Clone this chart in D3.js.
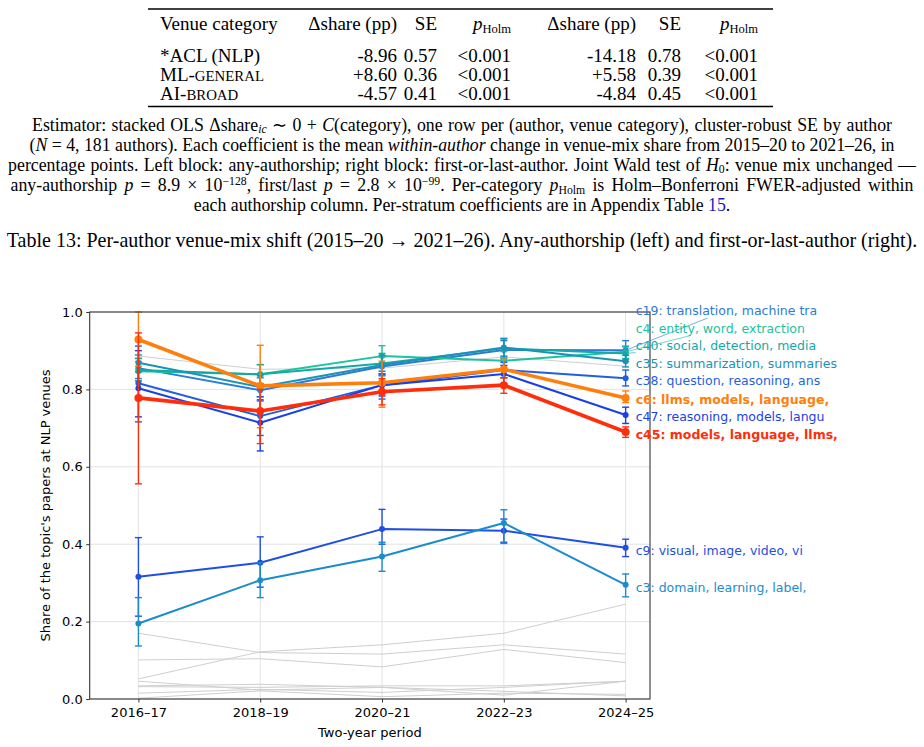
<!DOCTYPE html>
<html>
<head>
<meta charset="utf-8">
<style>
  body { margin: 0; background: #fff; }
  .serif { font-family: "Liberation Serif", "Times New Roman", serif; }
  .sans { font-family: "DejaVu Sans", sans-serif; }
</style>
</head>
<body>
<svg id="page" width="924" height="747"></svg>
<script src="https://cdn.jsdelivr.net/npm/d3@7/dist/d3.min.js"></script>
<script>

// ---- table data ----
var venueCategories = [["*ACL (NLP)", ""], ["ML-", "general"], ["AI-", "broad"]];
var deltaAny = ["-8.96", "+8.60", "-4.57"];
var seAny = ["0.57", "0.36", "0.41"];
var pAny = ["<0.001", "<0.001", "<0.001"];
var deltaFirstLast = ["-14.18", "+5.58", "-4.84"];
var seFirstLast = ["0.78", "0.39", "0.45"];
var pFirstLast = ["<0.001", "<0.001", "<0.001"];

// ---- chart data ----
var periods = ["2016–17", "2018–19", "2020–21", "2022–23", "2024–25"];
var topicIds = ["c19", "c4", "c40", "c35", "c38", "c6", "c47", "c45", "c9", "c3"];
var topicLabels = [
  "c19: translation, machine tra",
  "c4: entity, word, extraction",
  "c40: social, detection, media",
  "c35: summarization, summaries",
  "c38: question, reasoning, ans",
  "c6: llms, models, language,",
  "c47: reasoning, models, langu",
  "c45: models, language, llms,",
  "c9: visual, image, video, vi",
  "c3: domain, learning, label,"
];
var shares = [
  [0.855, 0.798, 0.859, 0.902, 0.901],
  [0.847, 0.839, 0.886, 0.874, 0.897],
  [0.850, 0.839, 0.867, 0.906, 0.893],
  [0.869, 0.806, 0.863, 0.908, 0.873],
  [0.816, 0.731, 0.811, 0.850, 0.829],
  [0.929, 0.809, 0.817, 0.852, 0.778],
  [0.803, 0.714, 0.811, 0.840, 0.734],
  [0.778, 0.744, 0.794, 0.811, 0.690],
  [0.316, 0.352, 0.439, 0.435, 0.391],
  [0.195, 0.307, 0.368, 0.455, 0.295]
];
var lowerCI = [
  [0.828, 0.770, 0.835, 0.880, 0.872],
  [0.822, 0.815, 0.862, 0.850, 0.880],
  [0.822, 0.815, 0.840, 0.884, 0.878],
  [0.845, 0.781, 0.837, 0.886, 0.858],
  [0.716, 0.681, 0.775, 0.830, 0.809],
  [0.860, 0.701, 0.754, 0.830, 0.766],
  [0.729, 0.641, 0.783, 0.815, 0.712],
  [0.556, 0.660, 0.760, 0.790, 0.676],
  [0.214, 0.289, 0.400, 0.405, 0.368],
  [0.137, 0.262, 0.330, 0.402, 0.264]
];
var upperCI = [
  [0.880, 0.830, 0.884, 0.926, 0.926],
  [0.872, 0.864, 0.913, 0.898, 0.912],
  [0.880, 0.864, 0.893, 0.930, 0.910],
  [0.889, 0.835, 0.888, 0.932, 0.888],
  [0.912, 0.781, 0.847, 0.870, 0.850],
  [1.000, 0.914, 0.873, 0.878, 0.796],
  [0.900, 0.773, 0.840, 0.862, 0.754],
  [0.946, 0.800, 0.828, 0.830, 0.703],
  [0.417, 0.419, 0.490, 0.465, 0.413],
  [0.262, 0.352, 0.405, 0.489, 0.323]
];
var otherTopicShares = [
  [0.886, 0.852, 0.855, 0.884, 0.860],
  [0.170, 0.120, 0.116, 0.140, 0.116],
  [0.052, 0.122, 0.140, 0.170, 0.245],
  [0.101, 0.104, 0.083, 0.128, 0.094],
  [0.046, 0.023, 0.030, 0.010, 0.046],
  [0.032, 0.030, 0.034, 0.034, 0.046],
  [0.015, 0.025, 0.017, 0.030, 0.046],
  [0.002, 0.021, 0.006, 0.015, 0.012],
  [0.034, 0.038, 0.030, 0.020, 0.008]
];

var topicColors = {
  c19: "#2b7bd8", c4: "#1cc39e", c40: "#15a9a6", c35: "#1a92b8", c38: "#1f5fe0",
  c6: "#ff7f0e", c47: "#1a3fe6", c45: "#ff2d0a", c9: "#1e4fe2", c3: "#1b8ccb"
};
var boldTopics = ["c6", "c45"];

var svg = d3.select("#page");

// ---------- rich text helper ----------
function rich(textSel, parts, size) {
  var shift = 0;
  parts.forEach(function(p) {
    if (typeof p === "string") p = { t: p };
    var s = 0;
    if (p.sub) s = size * 0.16;
    if (p.sup) s = -size * 0.34;
    var ts = textSel.append("tspan").text(p.t).attr("dy", s - shift);
    shift = s;
    if (p.sub || p.sup) ts.attr("font-size", size * 0.66);
    if (p.sc) ts.text(p.t.toUpperCase()).attr("font-size", size * 0.78);
    if (p.i) ts.attr("font-style", "italic");
    if (p.link) ts.attr("fill", "#1a1ab8");
  });
}

// ---------- table ----------
var tfs = 19;
var table = svg.append("g").attr("class", "serif").attr("font-size", tfs);
var ruleX0 = 148, ruleX1 = 773;
table.append("line").attr("x1", ruleX0).attr("x2", ruleX1).attr("y1", 9).attr("y2", 9)
  .attr("stroke", "#000").attr("stroke-width", 1.4);
table.append("line").attr("x1", ruleX0).attr("x2", ruleX1).attr("y1", 106.5).attr("y2", 106.5)
  .attr("stroke", "#000").attr("stroke-width", 1.4);

var colRight = [397, 437, 511, 636, 681, 758];
var headerY = 29.5;
table.append("text").attr("x", 160).attr("y", headerY).text("Venue category");
var pHolm = [{ t: "p", i: 1 }, { t: "Holm", sub: 1 }];
var headers = [["Δshare (pp)"], ["SE"], pHolm, ["Δshare (pp)"], ["SE"], pHolm];
headers.forEach(function(h, i) {
  var t = table.append("text").attr("x", colRight[i]).attr("y", headerY).attr("text-anchor", "end");
  rich(t, h, tfs);
});

var rowY = d3.scalePoint().domain(d3.range(venueCategories.length)).range([61.5, 99.5]);
var cols = [deltaAny, seAny, pAny, deltaFirstLast, seFirstLast, pFirstLast];
venueCategories.forEach(function(v, r) {
  var t = table.append("text").attr("x", 160).attr("y", rowY(r));
  rich(t, [v[0], { t: v[1], sc: 1 }], tfs);
  cols.forEach(function(c, j) {
    table.append("text").attr("x", colRight[j]).attr("y", rowY(r))
      .attr("text-anchor", "end").text(c[r]);
  });
});

// ---------- caption paragraph ----------
var noteLines = [
  ["Estimator: stacked OLS Δshare", { t: "ic", i: 1, sub: 1 }, " ∼ 0 + ", { t: "C", i: 1 },
   "(category), one row per (author, venue category), cluster-robust SE by author"],
  ["(", { t: "N", i: 1 }, " = 4, 181 authors). Each coefficient is the mean ", { t: "within-author", i: 1 },
   " change in venue-mix share from 2015–20 to 2021–26, in"],
  ["percentage points. Left block: any-authorship; right block: first-or-last-author. Joint Wald test of ",
   { t: "H", i: 1 }, { t: "0", sub: 1 }, ": venue mix unchanged —"],
  ["any-authorship ", { t: "p", i: 1 }, " = 8.9 × 10", { t: "−128", sup: 1 }, ", first/last ", { t: "p", i: 1 },
   " = 2.8 × 10", { t: "−99", sup: 1 }, ". Per-category ", { t: "p", i: 1 }, { t: "Holm", sub: 1 },
   " is Holm–Bonferroni FWER-adjusted within"],
  ["each authorship column. Per-stratum coefficients are in Appendix Table ", { t: "15", link: 1 }, "."]
];
var noteWidths = [860, 843, 908, 903, null];
var noteY = [130.5, 150.5, 170.5, 191, 211];
var nfs = 17.8;
var note = svg.append("g").attr("class", "serif").attr("font-size", nfs);
noteLines.forEach(function(parts, i) {
  var t = note.append("text").attr("x", 462).attr("y", noteY[i]).attr("text-anchor", "middle");
  rich(t, parts, nfs);
  if (noteWidths[i]) {
    var w = t.node().getBBox().width;
    var nSpaces = t.text().split(" ").length - 1;
    t.attr("word-spacing", Math.max(0, (noteWidths[i] - w) / nSpaces));
  }
});
var cap = note.append("text").attr("x", 462).attr("y", 246.5).attr("text-anchor", "middle")
  .text("Table 13: Per-author venue-mix shift (2015–20 → 2021–26). Any-authorship (left) and first-or-last-author (right).");
(function() {
  var w = cap.node().getBBox().width;
  cap.attr("font-size", nfs * 910 / w);
})();

// ---------- chart ----------
var plot = { left: 89.7, right: 650, top: 312, bottom: 699 };
var x = d3.scaleLinear().domain([-0.4, 4.2]).range([plot.left, plot.right]);
var y = d3.scaleLinear().domain([0, 1]).range([plot.bottom, plot.top]);
var yTicks = [0, 0.2, 0.4, 0.6, 0.8, 1.0];

var chart = svg.append("g").attr("class", "sans");

// grid
chart.append("g").selectAll("line").data(yTicks).enter().append("line")
  .attr("x1", plot.left).attr("x2", plot.right)
  .attr("y1", function(d) { return y(d); }).attr("y2", function(d) { return y(d); })
  .attr("stroke", "#e3e3e3").attr("stroke-width", 1);
chart.append("g").selectAll("line").data(periods).enter().append("line")
  .attr("x1", function(d, i) { return x(i); }).attr("x2", function(d, i) { return x(i); })
  .attr("y1", plot.top).attr("y2", plot.bottom)
  .attr("stroke", "#e3e3e3").attr("stroke-width", 1);

var line = d3.line().x(function(d, i) { return x(i); }).y(function(d) { return y(d); });

// background topics
chart.append("g").selectAll("path").data(otherTopicShares).enter().append("path")
  .attr("d", line).attr("fill", "none").attr("stroke", "#cfcfcf").attr("stroke-width", 1);

// highlighted topics
var series = topicIds.map(function(id, k) {
  return { id: id, label: topicLabels[k], v: shares[k], lo: lowerCI[k], hi: upperCI[k],
           bold: boldTopics.indexOf(id) >= 0, color: topicColors[id] };
});
var drawOrder = series.filter(function(s) { return !s.bold; })
  .concat(series.filter(function(s) { return s.bold; }));

var sg = chart.append("g").selectAll("g").data(drawOrder).enter().append("g");
sg.append("path").attr("d", function(s) { return line(s.v); })
  .attr("fill", "none").attr("stroke", function(s) { return s.color; })
  .attr("stroke-width", function(s) { return s.bold ? 3.6 : 2; })
  .attr("stroke-linejoin", "round");
sg.each(function(s) {
  var g = d3.select(this);
  var eb = g.selectAll("g.eb").data(s.v).enter().append("g").attr("class", "eb")
    .attr("stroke", s.color).attr("stroke-width", 1.4);
  eb.append("line")
    .attr("x1", function(d, i) { return x(i); }).attr("x2", function(d, i) { return x(i); })
    .attr("y1", function(d, i) { return y(Math.min(s.hi[i], 1.0)); })
    .attr("y2", function(d, i) { return y(s.lo[i]); });
  [s.lo, s.hi].forEach(function(arr) {
    eb.append("line")
      .attr("x1", function(d, i) { return x(i) - 3.5; }).attr("x2", function(d, i) { return x(i) + 3.5; })
      .attr("y1", function(d, i) { return y(Math.min(arr[i], 1.0)); })
      .attr("y2", function(d, i) { return y(Math.min(arr[i], 1.0)); });
  });
  g.selectAll("circle").data(s.v).enter().append("circle")
    .attr("cx", function(d, i) { return x(i); }).attr("cy", function(d) { return y(d); })
    .attr("r", s.bold ? 4 : 3).attr("fill", s.color);
});

// spines
chart.append("rect").attr("x", plot.left).attr("y", plot.top)
  .attr("width", plot.right - plot.left).attr("height", plot.bottom - plot.top)
  .attr("fill", "none").attr("stroke", "#333").attr("stroke-width", 1.1);

// axes
var yAxis = chart.append("g").attr("transform", "translate(" + plot.left + ",0)")
  .call(d3.axisLeft(y).tickValues(yTicks).tickFormat(d3.format(".1f")).tickSize(3.5).tickPadding(3.5));
var xAxis = chart.append("g").attr("transform", "translate(0," + plot.bottom + ")")
  .call(d3.axisBottom(x).tickValues(d3.range(periods.length))
    .tickFormat(function(i) { return periods[i]; }).tickSize(3.5).tickPadding(5));
[yAxis, xAxis].forEach(function(a) {
  a.select(".domain").remove();
  a.selectAll("text").attr("font-size", 13).attr("font-family", "DejaVu Sans").attr("fill", "#000");
  a.selectAll("line").attr("stroke", "#333");
});

chart.append("text").attr("x", (plot.left + plot.right) / 2).attr("y", 737)
  .attr("text-anchor", "middle").attr("font-size", 13).text("Two-year period");
chart.append("text").attr("transform", "translate(50," + (plot.top + plot.bottom) / 2 + ") rotate(-90)")
  .attr("text-anchor", "middle").attr("font-size", 13).text("Share of the topic's papers at NLP venues");

// end labels, pushed up to avoid overlap
var last = periods.length - 1;
var items = series.map(function(s) {
  return { s: s, py: y(s.v[last]), ly: y(s.v[last]) + 2.5 };
}).sort(function(a, b) { return b.py - a.py; });
items.forEach(function(it, i) {
  if (i > 0) it.ly = Math.min(it.ly, items[i - 1].ly - 17.5);
});
var labelG = chart.append("g");
items.forEach(function(it) {
  var px = x(last);
  var t = labelG.append("text").attr("x", px + 10).attr("y", it.ly)
    .attr("dominant-baseline", "central").attr("font-size", 12.5)
    .attr("font-weight", it.s.bold ? "bold" : "normal")
    .attr("fill", it.s.color).text(it.s.label);
  if (Math.abs(it.ly - 2.5 - it.py) > 4) {
    var b = t.node().getBBox();
    var cx = b.x + b.width / 2, cy = b.y + b.height / 2;
    var dx = px - cx, dy = it.py - cy;
    var tt = Math.min(b.width / 2 / Math.abs(dx), b.height / 2 / Math.abs(dy));
    labelG.insert("line", "text").attr("x1", cx + dx * tt).attr("y1", cy + dy * tt)
      .attr("x2", px).attr("y2", it.py)
      .attr("stroke", it.s.color).attr("stroke-width", 0.9).attr("stroke-opacity", 0.7);
  }
});

</script>
</body>
</html>
